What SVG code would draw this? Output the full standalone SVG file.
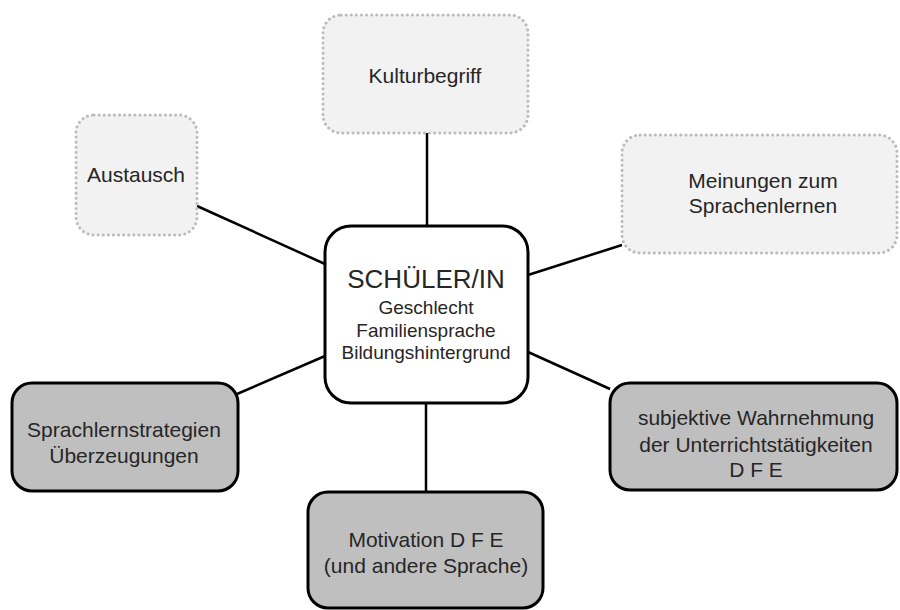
<svg xmlns="http://www.w3.org/2000/svg" width="900" height="610" viewBox="0 0 900 610">
<style>
.light{fill:#f2f2f2;stroke:#bcbcbc;stroke-width:3;stroke-dasharray:0.1 5;stroke-linecap:round}
.dark{fill:#bfbfbf;stroke:#000;stroke-width:3}
.center{fill:#fff;stroke:#000;stroke-width:3}
text{font-family:"Liberation Sans",Arial,sans-serif;fill:#262626;text-anchor:middle}
.t{font-size:21px}
.c{font-size:19px}
.big{font-size:26px}
#connectors line{stroke:#000;stroke-width:2.5}
</style>
<rect width="900" height="610" fill="#fff"/>
<g id="connectors">
<line x1="427" y1="133" x2="427" y2="228"/>
<line x1="197" y1="206" x2="325" y2="264"/>
<line x1="528" y1="275" x2="622" y2="245"/>
<line x1="237" y1="394" x2="325" y2="356"/>
<line x1="528" y1="352" x2="610" y2="389"/>
<line x1="426" y1="403" x2="426" y2="492"/>
</g>
<g id="kulturbegriff">
<rect class="light" x="323" y="15" width="205" height="118" rx="18"/>
<text class="t" x="425" y="83">Kulturbegriff</text>
</g>
<g id="austausch">
<rect class="light" x="76" y="115" width="121" height="120" rx="18"/>
<text class="t" x="136" y="182">Austausch</text>
</g>
<g id="meinungen">
<rect class="light" x="622" y="135" width="275" height="118" rx="18"/>
<text class="t" x="763" y="188">Meinungen zum</text>
<text class="t" x="763" y="213">Sprachenlernen</text>
</g>
<g id="schueler">
<rect class="center" x="325" y="226" width="203" height="177" rx="26"/>
<text class="big" x="426" y="288">SCHÜLER/IN</text>
<text class="c" x="426" y="314">Geschlecht</text>
<text class="c" x="426" y="337">Familiensprache</text>
<text class="c" x="426" y="359">Bildungshintergrund</text>
</g>
<g id="sprachlernstrategien">
<rect class="dark" x="12" y="383" width="226" height="108" rx="20"/>
<text class="t" x="124" y="437">Sprachlernstrategien</text>
<text class="t" x="124" y="463">Überzeugungen</text>
</g>
<g id="subjektive">
<rect class="dark" x="610" y="383" width="287" height="107" rx="20"/>
<text class="t" x="756" y="425">subjektive Wahrnehmung</text>
<text class="t" x="756" y="452">der Unterrichtstätigkeiten</text>
<text class="t" x="756" y="477">D F E</text>
</g>
<g id="motivation">
<rect class="dark" x="308" y="492" width="235" height="116" rx="20"/>
<text class="t" x="426" y="547">Motivation D F E</text>
<text class="t" x="426" y="573">(und andere Sprache)</text>
</g>
</svg>
